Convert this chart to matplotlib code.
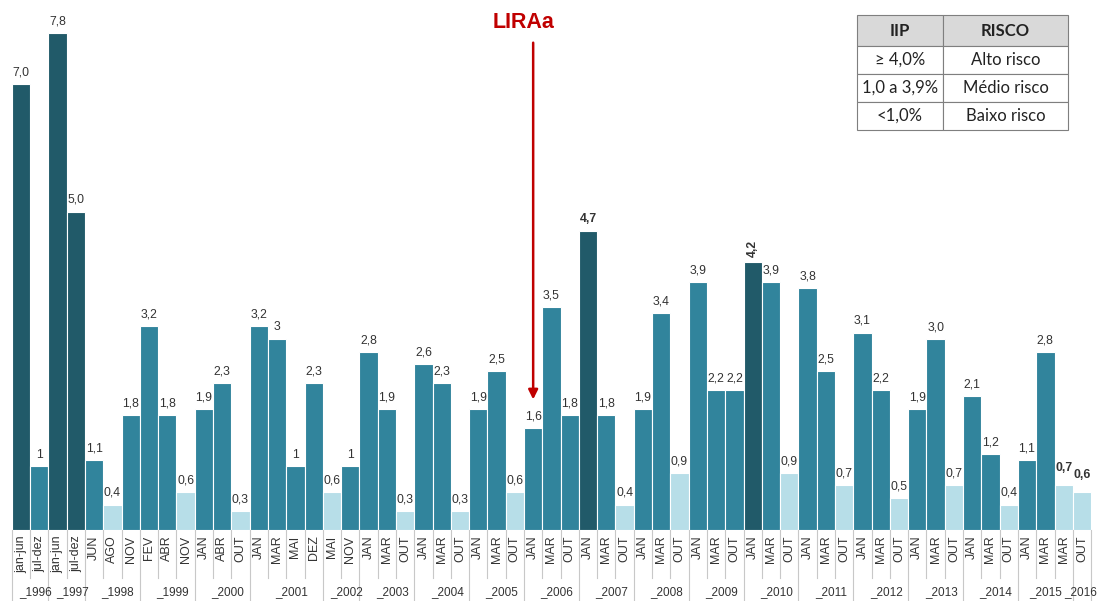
import matplotlib
matplotlib.use("Agg")
import matplotlib.pyplot as plt
from matplotlib.transforms import blended_transform_factory
from matplotlib.patches import Rectangle

plt.rcParams['font.family'] = ['Liberation Sans', 'DejaVu Sans']

# Survey periods grouped by year
years = ["1996", "1997", "1998", "1999", "2000", "2001", "2002", "2003", "2004",
         "2005", "2006", "2007", "2008", "2009", "2010", "2011", "2012", "2013",
         "2014", "2015", "2016"]
months = [
    ["jan-jun", "jul-dez"],
    ["jan-jun", "jul-dez"],
    ["JUN", "AGO", "NOV"],
    ["FEV", "ABR", "NOV"],
    ["JAN", "ABR", "OUT"],
    ["JAN", "MAR", "MAI", "DEZ"],
    ["MAI", "NOV"],
    ["JAN", "MAR", "OUT"],
    ["JAN", "MAR", "OUT"],
    ["JAN", "MAR", "OUT"],
    ["JAN", "MAR", "OUT"],
    ["JAN", "MAR", "OUT"],
    ["JAN", "MAR", "OUT"],
    ["JAN", "MAR", "OUT"],
    ["JAN", "MAR", "OUT"],
    ["JAN", "MAR", "OUT"],
    ["JAN", "MAR", "OUT"],
    ["JAN", "MAR", "OUT"],
    ["JAN", "MAR", "OUT"],
    ["JAN", "MAR", "MAR"],
    ["OUT"],
]
# Building infestation index (IIP, %)
iip = [
    [7.0, 1.0],
    [7.8, 5.0],
    [1.1, 0.4, 1.8],
    [3.2, 1.8, 0.6],
    [1.9, 2.3, 0.3],
    [3.2, 3.0, 1.0, 2.3],
    [0.6, 1.0],
    [2.8, 1.9, 0.3],
    [2.6, 2.3, 0.3],
    [1.9, 2.5, 0.6],
    [1.6, 3.5, 1.8],
    [4.7, 1.8, 0.4],
    [1.9, 3.4, 0.9],
    [3.9, 2.2, 2.2],
    [4.2, 3.9, 0.9],
    [3.8, 2.5, 0.7],
    [3.1, 2.2, 0.5],
    [1.9, 3.0, 0.7],
    [2.1, 1.2, 0.4],
    [1.1, 2.8, 0.7],
    [0.6],
]
# Value labels as printed
value_text = [
    ["7,0", "1"],
    ["7,8", "5,0"],
    ["1,1", "0,4", "1,8"],
    ["3,2", "1,8", "0,6"],
    ["1,9", "2,3", "0,3"],
    ["3,2", "3", "1", "2,3"],
    ["0,6", "1"],
    ["2,8", "1,9", "0,3"],
    ["2,6", "2,3", "0,3"],
    ["1,9", "2,5", "0,6"],
    ["1,6", "3,5", "1,8"],
    ["4,7", "1,8", "0,4"],
    ["1,9", "3,4", "0,9"],
    ["3,9", "2,2", "2,2"],
    ["4,2", "3,9", "0,9"],
    ["3,8", "2,5", "0,7"],
    ["3,1", "2,2", "0,5"],
    ["1,9", "3,0", "0,7"],
    ["2,1", "1,2", "0,4"],
    ["1,1", "2,8", "0,7"],
    ["0,6"],
]

risk_header = ["IIP", "RISCO"]
risk_rows = [["\u2265 4,0%", "Alto risco"],
             ["1,0 a 3,9%", "M\u00e9dio risco"],
             ["<1,0%", "Baixo risco"]]

DARK = "#215A69"
MID = "#31849C"
LIGHT = "#B7DEE8"
TXT = "#333333"
GRID = "#C8C8C8"


def risk_color(v):
    if v >= 4.0:
        return DARK
    if v >= 1.0:
        return MID
    return LIGHT


fig = plt.figure(figsize=(11, 6.01), dpi=100)
W, H = 1100, 601
ax_l, ax_r, ax_top, ax_bot = 10, 1092, 0, 530
ax = fig.add_axes([ax_l / W, (H - ax_bot) / H, (ax_r - ax_l) / W, (ax_bot - ax_top) / H])

labels, values, texts, group_bounds = [], [], [], []
for m, v, t in zip(months, iip, value_text):
    start = len(values)
    labels += m
    values += v
    texts += t
    group_bounds.append((start, len(values)))

x = list(range(len(values)))
colors = [risk_color(v) for v in values]
ax.bar(x, values, width=1.0, color=colors, edgecolor="white", linewidth=0.8, zorder=2)

ax.set_xlim(-0.6, len(values) - 0.45)
ax.set_ylim(0, 530 / 63.7)
for s in ax.spines.values():
    s.set_visible(False)
ax.set_yticks([])
ax.set_xticks(x)
ax.set_xticklabels(labels, rotation=90, fontsize=9, color=TXT)
ax.tick_params(axis="x", length=0, pad=4)

bold_vals = {"4,7", "4,2"}
n = len(values)
for i, (v, t) in enumerate(zip(values, texts)):
    last = i >= n - 2
    bold = t in bold_vals or last
    rot = 90 if t == "4,2" else 0
    ax.annotate(t, (i, v), xytext=(0, 8 if last else 4), textcoords="offset points",
                ha="center", va="bottom", fontsize=8.8, color=TXT,
                fontweight="bold" if bold else "normal", rotation=rot, zorder=4)

# category separators below the axis
tr = blended_transform_factory(ax.transData, ax.transAxes)
month_depth = -48 / 530
year_depth = -71 / 530
year_edges = {b[0] for b in group_bounds} | {n}
for k in range(n + 1):
    xe = k - 0.5
    d = year_depth if k in year_edges else month_depth
    ax.plot([xe, xe], [0, d], transform=tr, color=GRID, lw=0.8, clip_on=False)

n_years = len(years)
for gi, (yr, (a, b)) in enumerate(zip(years, group_bounds)):
    if gi == n_years - 1:
        shift = -0.05
    elif gi == n_years - 2:
        shift = 0.0
    else:
        shift = 0.3
    ax.text((a + b - 1) / 2 + shift, -62 / 530, "_" + yr, transform=tr, ha="center",
            va="center", fontsize=8.5, color=TXT, clip_on=False)

# LIRAa marker on the January 2006 survey
lira_idx = 28
ax.text(lira_idx - 0.5, 7.97, "LIRAa", ha="center", va="center", fontsize=15.5,
        fontweight="bold", color="#C00000")
ax.annotate("", xy=(lira_idx, 2.05), xytext=(lira_idx, 7.65),
            arrowprops=dict(arrowstyle="-|>", color="#C00000", lw=1.8,
                            mutation_scale=14, shrinkA=0, shrinkB=0))

# risk classification table
tx0, tx1, tx2 = 857, 943, 1068
ty = [15, 46, 74, 102, 130]


def fx(px):
    return px / W


def fy(py):
    return (H - py) / H


rows = [risk_header] + risk_rows
for r, row in enumerate(rows):
    y0, y1 = ty[r], ty[r + 1]
    fc = "#D9D9D9" if r == 0 else "white"
    for c, (xa, xb) in enumerate([(tx0, tx1), (tx1, tx2)]):
        fig.patches.append(Rectangle((fx(xa), fy(y1)), fx(xb) - fx(xa), fy(y0) - fy(y1),
                                     transform=fig.transFigure, facecolor=fc,
                                     edgecolor="#7F7F7F", linewidth=0.8, zorder=5))
        fig.text((fx(xa) + fx(xb)) / 2, (fy(y0) + fy(y1)) / 2, row[c],
                 ha="center", va="center", fontsize=12, color="#222222",
                 family=["Lato", "DejaVu Sans"],
                 fontweight="bold" if r == 0 else "normal", zorder=6)

fig.savefig("out.png", dpi=100)
